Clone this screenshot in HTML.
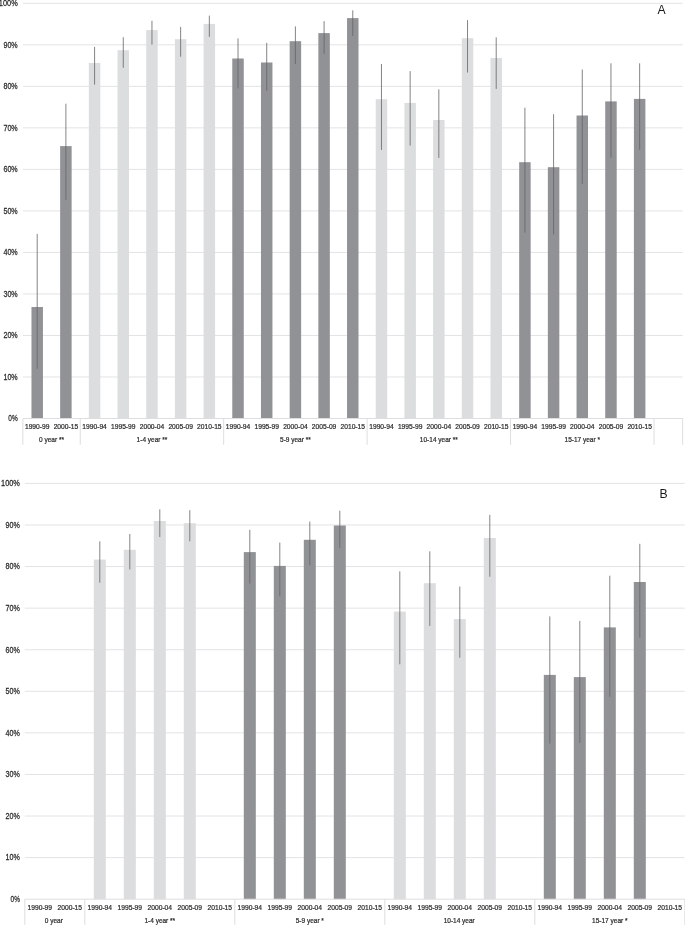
<!DOCTYPE html>
<html lang="en"><head><meta charset="utf-8"><title>Figure</title>
<style>
html,body{margin:0;padding:0;background:#fff;}
body{width:685px;height:925px;overflow:hidden;}
svg{display:block;font-family:"Liberation Sans", Arial, sans-serif;}
</style></head><body>
<svg width="685" height="925" viewBox="0 0 685 925">
<rect width="685" height="925" fill="#ffffff"/>
<g id="chartA">
<text transform="translate(17.70,421.35) scale(0.78,1)" font-size="8.3" text-anchor="end" fill="#2b2b2b" stroke="#2b2b2b" stroke-width="0.25">0%</text>
<line x1="22.86" y1="376.98" x2="682.68" y2="376.98" stroke="#e2e3e4" stroke-width="1"/>
<text transform="translate(17.70,379.83) scale(0.86,1)" font-size="8.3" text-anchor="end" fill="#2b2b2b" stroke="#2b2b2b" stroke-width="0.25">10%</text>
<line x1="22.86" y1="335.46" x2="682.68" y2="335.46" stroke="#e2e3e4" stroke-width="1"/>
<text transform="translate(17.70,338.31) scale(0.86,1)" font-size="8.3" text-anchor="end" fill="#2b2b2b" stroke="#2b2b2b" stroke-width="0.25">20%</text>
<line x1="22.86" y1="293.94" x2="682.68" y2="293.94" stroke="#e2e3e4" stroke-width="1"/>
<text transform="translate(17.70,296.79) scale(0.86,1)" font-size="8.3" text-anchor="end" fill="#2b2b2b" stroke="#2b2b2b" stroke-width="0.25">30%</text>
<line x1="22.86" y1="252.42" x2="682.68" y2="252.42" stroke="#e2e3e4" stroke-width="1"/>
<text transform="translate(17.70,255.27) scale(0.86,1)" font-size="8.3" text-anchor="end" fill="#2b2b2b" stroke="#2b2b2b" stroke-width="0.25">40%</text>
<line x1="22.86" y1="210.90" x2="682.68" y2="210.90" stroke="#e2e3e4" stroke-width="1"/>
<text transform="translate(17.70,213.75) scale(0.86,1)" font-size="8.3" text-anchor="end" fill="#2b2b2b" stroke="#2b2b2b" stroke-width="0.25">50%</text>
<line x1="22.86" y1="169.38" x2="682.68" y2="169.38" stroke="#e2e3e4" stroke-width="1"/>
<text transform="translate(17.70,172.23) scale(0.86,1)" font-size="8.3" text-anchor="end" fill="#2b2b2b" stroke="#2b2b2b" stroke-width="0.25">60%</text>
<line x1="22.86" y1="127.86" x2="682.68" y2="127.86" stroke="#e2e3e4" stroke-width="1"/>
<text transform="translate(17.70,130.71) scale(0.86,1)" font-size="8.3" text-anchor="end" fill="#2b2b2b" stroke="#2b2b2b" stroke-width="0.25">70%</text>
<line x1="22.86" y1="86.34" x2="682.68" y2="86.34" stroke="#e2e3e4" stroke-width="1"/>
<text transform="translate(17.70,89.19) scale(0.86,1)" font-size="8.3" text-anchor="end" fill="#2b2b2b" stroke="#2b2b2b" stroke-width="0.25">80%</text>
<line x1="22.86" y1="44.82" x2="682.68" y2="44.82" stroke="#e2e3e4" stroke-width="1"/>
<text transform="translate(17.70,47.67) scale(0.86,1)" font-size="8.3" text-anchor="end" fill="#2b2b2b" stroke="#2b2b2b" stroke-width="0.25">90%</text>
<line x1="22.86" y1="3.30" x2="682.68" y2="3.30" stroke="#e2e3e4" stroke-width="1"/>
<text transform="translate(17.70,6.15) scale(0.89,1)" font-size="8.3" text-anchor="end" fill="#2b2b2b" stroke="#2b2b2b" stroke-width="0.25">100%</text>
<rect x="31.47" y="307.00" width="11.48" height="111.50" fill="#919296"/>
<rect x="60.15" y="146.10" width="11.48" height="272.40" fill="#919296"/>
<rect x="88.84" y="63.00" width="11.48" height="355.50" fill="#dcddde"/>
<rect x="117.53" y="50.20" width="11.48" height="368.30" fill="#dcddde"/>
<rect x="146.22" y="30.10" width="11.48" height="388.40" fill="#dcddde"/>
<rect x="174.91" y="39.20" width="11.48" height="379.30" fill="#dcddde"/>
<rect x="203.59" y="23.90" width="11.48" height="394.60" fill="#dcddde"/>
<rect x="232.28" y="58.50" width="11.48" height="360.00" fill="#919296"/>
<rect x="260.97" y="62.50" width="11.48" height="356.00" fill="#919296"/>
<rect x="289.66" y="41.20" width="11.48" height="377.30" fill="#919296"/>
<rect x="318.35" y="33.10" width="11.48" height="385.40" fill="#919296"/>
<rect x="347.03" y="18.10" width="11.48" height="400.40" fill="#919296"/>
<rect x="375.72" y="99.20" width="11.48" height="319.30" fill="#dcddde"/>
<rect x="404.41" y="102.90" width="11.48" height="315.60" fill="#dcddde"/>
<rect x="433.10" y="120.00" width="11.48" height="298.50" fill="#dcddde"/>
<rect x="461.79" y="38.20" width="11.48" height="380.30" fill="#dcddde"/>
<rect x="490.47" y="58.00" width="11.48" height="360.50" fill="#dcddde"/>
<rect x="519.16" y="162.20" width="11.48" height="256.30" fill="#919296"/>
<rect x="547.85" y="167.20" width="11.48" height="251.30" fill="#919296"/>
<rect x="576.54" y="115.50" width="11.48" height="303.00" fill="#919296"/>
<rect x="605.23" y="101.40" width="11.48" height="317.10" fill="#919296"/>
<rect x="633.91" y="98.90" width="11.48" height="319.60" fill="#919296"/>
<line x1="37.20" y1="233.90" x2="37.20" y2="368.80" stroke="#636466" stroke-width="0.8"/>
<line x1="65.89" y1="103.70" x2="65.89" y2="199.80" stroke="#636466" stroke-width="0.8"/>
<line x1="94.58" y1="46.90" x2="94.58" y2="84.60" stroke="#636466" stroke-width="0.8"/>
<line x1="123.27" y1="37.20" x2="123.27" y2="67.80" stroke="#636466" stroke-width="0.8"/>
<line x1="151.96" y1="20.80" x2="151.96" y2="44.70" stroke="#636466" stroke-width="0.8"/>
<line x1="180.64" y1="26.90" x2="180.64" y2="56.70" stroke="#636466" stroke-width="0.8"/>
<line x1="209.33" y1="15.60" x2="209.33" y2="36.90" stroke="#636466" stroke-width="0.8"/>
<line x1="238.02" y1="38.40" x2="238.02" y2="88.40" stroke="#636466" stroke-width="0.8"/>
<line x1="266.71" y1="42.90" x2="266.71" y2="90.60" stroke="#636466" stroke-width="0.8"/>
<line x1="295.40" y1="26.40" x2="295.40" y2="64.00" stroke="#636466" stroke-width="0.8"/>
<line x1="324.08" y1="21.10" x2="324.08" y2="53.70" stroke="#636466" stroke-width="0.8"/>
<line x1="352.77" y1="10.30" x2="352.77" y2="35.90" stroke="#636466" stroke-width="0.8"/>
<line x1="381.46" y1="64.00" x2="381.46" y2="149.90" stroke="#636466" stroke-width="0.8"/>
<line x1="410.15" y1="71.10" x2="410.15" y2="145.60" stroke="#636466" stroke-width="0.8"/>
<line x1="438.84" y1="89.40" x2="438.84" y2="157.90" stroke="#636466" stroke-width="0.8"/>
<line x1="467.52" y1="20.10" x2="467.52" y2="72.60" stroke="#636466" stroke-width="0.8"/>
<line x1="496.21" y1="37.40" x2="496.21" y2="88.90" stroke="#636466" stroke-width="0.8"/>
<line x1="524.90" y1="107.70" x2="524.90" y2="232.60" stroke="#636466" stroke-width="0.8"/>
<line x1="553.59" y1="114.20" x2="553.59" y2="234.40" stroke="#636466" stroke-width="0.8"/>
<line x1="582.28" y1="69.50" x2="582.28" y2="184.00" stroke="#636466" stroke-width="0.8"/>
<line x1="610.96" y1="63.30" x2="610.96" y2="157.70" stroke="#636466" stroke-width="0.8"/>
<line x1="639.65" y1="63.30" x2="639.65" y2="149.90" stroke="#636466" stroke-width="0.8"/>
<line x1="22.86" y1="418.50" x2="682.68" y2="418.50" stroke="#dddedf" stroke-width="1"/>
<line x1="22.86" y1="418.50" x2="22.86" y2="444.80" stroke="#dddedf" stroke-width="1"/>
<line x1="80.24" y1="418.50" x2="80.24" y2="444.80" stroke="#dddedf" stroke-width="1"/>
<line x1="223.68" y1="418.50" x2="223.68" y2="444.80" stroke="#dddedf" stroke-width="1"/>
<line x1="367.12" y1="418.50" x2="367.12" y2="444.80" stroke="#dddedf" stroke-width="1"/>
<line x1="510.56" y1="418.50" x2="510.56" y2="444.80" stroke="#dddedf" stroke-width="1"/>
<line x1="654.00" y1="418.50" x2="654.00" y2="444.80" stroke="#dddedf" stroke-width="1"/>
<line x1="682.68" y1="418.50" x2="682.68" y2="444.80" stroke="#dddedf" stroke-width="1"/>
<text transform="translate(37.20,429.30) scale(0.93,1)" font-size="7.2" text-anchor="middle" fill="#2b2b2b" stroke="#2b2b2b" stroke-width="0.22">1990-99</text>
<text transform="translate(65.89,429.30) scale(0.93,1)" font-size="7.2" text-anchor="middle" fill="#2b2b2b" stroke="#2b2b2b" stroke-width="0.22">2000-15</text>
<text transform="translate(94.58,429.30) scale(0.93,1)" font-size="7.2" text-anchor="middle" fill="#2b2b2b" stroke="#2b2b2b" stroke-width="0.22">1990-94</text>
<text transform="translate(123.27,429.30) scale(0.93,1)" font-size="7.2" text-anchor="middle" fill="#2b2b2b" stroke="#2b2b2b" stroke-width="0.22">1995-99</text>
<text transform="translate(151.96,429.30) scale(0.93,1)" font-size="7.2" text-anchor="middle" fill="#2b2b2b" stroke="#2b2b2b" stroke-width="0.22">2000-04</text>
<text transform="translate(180.64,429.30) scale(0.93,1)" font-size="7.2" text-anchor="middle" fill="#2b2b2b" stroke="#2b2b2b" stroke-width="0.22">2005-09</text>
<text transform="translate(209.33,429.30) scale(0.93,1)" font-size="7.2" text-anchor="middle" fill="#2b2b2b" stroke="#2b2b2b" stroke-width="0.22">2010-15</text>
<text transform="translate(238.02,429.30) scale(0.93,1)" font-size="7.2" text-anchor="middle" fill="#2b2b2b" stroke="#2b2b2b" stroke-width="0.22">1990-94</text>
<text transform="translate(266.71,429.30) scale(0.93,1)" font-size="7.2" text-anchor="middle" fill="#2b2b2b" stroke="#2b2b2b" stroke-width="0.22">1995-99</text>
<text transform="translate(295.40,429.30) scale(0.93,1)" font-size="7.2" text-anchor="middle" fill="#2b2b2b" stroke="#2b2b2b" stroke-width="0.22">2000-04</text>
<text transform="translate(324.08,429.30) scale(0.93,1)" font-size="7.2" text-anchor="middle" fill="#2b2b2b" stroke="#2b2b2b" stroke-width="0.22">2005-09</text>
<text transform="translate(352.77,429.30) scale(0.93,1)" font-size="7.2" text-anchor="middle" fill="#2b2b2b" stroke="#2b2b2b" stroke-width="0.22">2010-15</text>
<text transform="translate(381.46,429.30) scale(0.93,1)" font-size="7.2" text-anchor="middle" fill="#2b2b2b" stroke="#2b2b2b" stroke-width="0.22">1990-94</text>
<text transform="translate(410.15,429.30) scale(0.93,1)" font-size="7.2" text-anchor="middle" fill="#2b2b2b" stroke="#2b2b2b" stroke-width="0.22">1995-99</text>
<text transform="translate(438.84,429.30) scale(0.93,1)" font-size="7.2" text-anchor="middle" fill="#2b2b2b" stroke="#2b2b2b" stroke-width="0.22">2000-04</text>
<text transform="translate(467.52,429.30) scale(0.93,1)" font-size="7.2" text-anchor="middle" fill="#2b2b2b" stroke="#2b2b2b" stroke-width="0.22">2005-09</text>
<text transform="translate(496.21,429.30) scale(0.93,1)" font-size="7.2" text-anchor="middle" fill="#2b2b2b" stroke="#2b2b2b" stroke-width="0.22">2010-15</text>
<text transform="translate(524.90,429.30) scale(0.93,1)" font-size="7.2" text-anchor="middle" fill="#2b2b2b" stroke="#2b2b2b" stroke-width="0.22">1990-94</text>
<text transform="translate(553.59,429.30) scale(0.93,1)" font-size="7.2" text-anchor="middle" fill="#2b2b2b" stroke="#2b2b2b" stroke-width="0.22">1995-99</text>
<text transform="translate(582.28,429.30) scale(0.93,1)" font-size="7.2" text-anchor="middle" fill="#2b2b2b" stroke="#2b2b2b" stroke-width="0.22">2000-04</text>
<text transform="translate(610.96,429.30) scale(0.93,1)" font-size="7.2" text-anchor="middle" fill="#2b2b2b" stroke="#2b2b2b" stroke-width="0.22">2005-09</text>
<text transform="translate(639.65,429.30) scale(0.93,1)" font-size="7.2" text-anchor="middle" fill="#2b2b2b" stroke="#2b2b2b" stroke-width="0.22">2010-15</text>
<text transform="translate(51.55,442.20) scale(0.917,1)" font-size="7.1" text-anchor="middle" fill="#2b2b2b" stroke="#2b2b2b" stroke-width="0.22">0 year **</text>
<text transform="translate(151.96,442.20) scale(0.917,1)" font-size="7.1" text-anchor="middle" fill="#2b2b2b" stroke="#2b2b2b" stroke-width="0.22">1-4 year **</text>
<text transform="translate(295.40,442.20) scale(0.917,1)" font-size="7.1" text-anchor="middle" fill="#2b2b2b" stroke="#2b2b2b" stroke-width="0.22">5-9 year **</text>
<text transform="translate(438.84,442.20) scale(0.917,1)" font-size="7.1" text-anchor="middle" fill="#2b2b2b" stroke="#2b2b2b" stroke-width="0.22">10-14 year **</text>
<text transform="translate(582.28,442.20) scale(0.917,1)" font-size="7.1" text-anchor="middle" fill="#2b2b2b" stroke="#2b2b2b" stroke-width="0.22">15-17 year *</text>
<text x="661.60" y="13.80" font-size="12.2" text-anchor="middle" fill="#1a1a1a">A</text>
</g>
<g id="chartB">
<text transform="translate(19.90,902.05) scale(0.78,1)" font-size="8.3" text-anchor="end" fill="#2b2b2b" stroke="#2b2b2b" stroke-width="0.25">0%</text>
<line x1="24.80" y1="857.62" x2="684.80" y2="857.62" stroke="#e2e3e4" stroke-width="1"/>
<text transform="translate(19.90,860.47) scale(0.86,1)" font-size="8.3" text-anchor="end" fill="#2b2b2b" stroke="#2b2b2b" stroke-width="0.25">10%</text>
<line x1="24.80" y1="816.04" x2="684.80" y2="816.04" stroke="#e2e3e4" stroke-width="1"/>
<text transform="translate(19.90,818.89) scale(0.86,1)" font-size="8.3" text-anchor="end" fill="#2b2b2b" stroke="#2b2b2b" stroke-width="0.25">20%</text>
<line x1="24.80" y1="774.46" x2="684.80" y2="774.46" stroke="#e2e3e4" stroke-width="1"/>
<text transform="translate(19.90,777.31) scale(0.86,1)" font-size="8.3" text-anchor="end" fill="#2b2b2b" stroke="#2b2b2b" stroke-width="0.25">30%</text>
<line x1="24.80" y1="732.88" x2="684.80" y2="732.88" stroke="#e2e3e4" stroke-width="1"/>
<text transform="translate(19.90,735.73) scale(0.86,1)" font-size="8.3" text-anchor="end" fill="#2b2b2b" stroke="#2b2b2b" stroke-width="0.25">40%</text>
<line x1="24.80" y1="691.30" x2="684.80" y2="691.30" stroke="#e2e3e4" stroke-width="1"/>
<text transform="translate(19.90,694.15) scale(0.86,1)" font-size="8.3" text-anchor="end" fill="#2b2b2b" stroke="#2b2b2b" stroke-width="0.25">50%</text>
<line x1="24.80" y1="649.72" x2="684.80" y2="649.72" stroke="#e2e3e4" stroke-width="1"/>
<text transform="translate(19.90,652.57) scale(0.86,1)" font-size="8.3" text-anchor="end" fill="#2b2b2b" stroke="#2b2b2b" stroke-width="0.25">60%</text>
<line x1="24.80" y1="608.14" x2="684.80" y2="608.14" stroke="#e2e3e4" stroke-width="1"/>
<text transform="translate(19.90,610.99) scale(0.86,1)" font-size="8.3" text-anchor="end" fill="#2b2b2b" stroke="#2b2b2b" stroke-width="0.25">70%</text>
<line x1="24.80" y1="566.56" x2="684.80" y2="566.56" stroke="#e2e3e4" stroke-width="1"/>
<text transform="translate(19.90,569.41) scale(0.86,1)" font-size="8.3" text-anchor="end" fill="#2b2b2b" stroke="#2b2b2b" stroke-width="0.25">80%</text>
<line x1="24.80" y1="524.98" x2="684.80" y2="524.98" stroke="#e2e3e4" stroke-width="1"/>
<text transform="translate(19.90,527.83) scale(0.86,1)" font-size="8.3" text-anchor="end" fill="#2b2b2b" stroke="#2b2b2b" stroke-width="0.25">90%</text>
<line x1="24.80" y1="483.40" x2="684.80" y2="483.40" stroke="#e2e3e4" stroke-width="1"/>
<text transform="translate(19.90,486.25) scale(0.89,1)" font-size="8.3" text-anchor="end" fill="#2b2b2b" stroke="#2b2b2b" stroke-width="0.25">100%</text>
<rect x="93.80" y="559.60" width="12.00" height="339.60" fill="#dcddde"/>
<rect x="123.80" y="549.80" width="12.00" height="349.40" fill="#dcddde"/>
<rect x="153.80" y="521.00" width="12.00" height="378.20" fill="#dcddde"/>
<rect x="183.80" y="523.20" width="12.00" height="376.00" fill="#dcddde"/>
<rect x="243.80" y="552.10" width="12.00" height="347.10" fill="#919296"/>
<rect x="273.80" y="565.90" width="12.00" height="333.30" fill="#919296"/>
<rect x="303.80" y="539.80" width="12.00" height="359.40" fill="#919296"/>
<rect x="333.80" y="525.50" width="12.00" height="373.70" fill="#919296"/>
<rect x="393.80" y="611.60" width="12.00" height="287.60" fill="#dcddde"/>
<rect x="423.80" y="583.20" width="12.00" height="316.00" fill="#dcddde"/>
<rect x="453.80" y="619.10" width="12.00" height="280.10" fill="#dcddde"/>
<rect x="483.80" y="538.00" width="12.00" height="361.20" fill="#dcddde"/>
<rect x="543.80" y="674.90" width="12.00" height="224.30" fill="#919296"/>
<rect x="573.80" y="677.10" width="12.00" height="222.10" fill="#919296"/>
<rect x="603.80" y="627.40" width="12.00" height="271.80" fill="#919296"/>
<rect x="633.80" y="582.00" width="12.00" height="317.20" fill="#919296"/>
<line x1="99.80" y1="541.30" x2="99.80" y2="582.70" stroke="#636466" stroke-width="0.8"/>
<line x1="129.80" y1="534.00" x2="129.80" y2="569.40" stroke="#636466" stroke-width="0.8"/>
<line x1="159.80" y1="509.40" x2="159.80" y2="537.00" stroke="#636466" stroke-width="0.8"/>
<line x1="189.80" y1="510.20" x2="189.80" y2="541.30" stroke="#636466" stroke-width="0.8"/>
<line x1="249.80" y1="529.80" x2="249.80" y2="583.50" stroke="#636466" stroke-width="0.8"/>
<line x1="279.80" y1="542.60" x2="279.80" y2="596.30" stroke="#636466" stroke-width="0.8"/>
<line x1="309.80" y1="521.50" x2="309.80" y2="565.40" stroke="#636466" stroke-width="0.8"/>
<line x1="339.80" y1="510.70" x2="339.80" y2="547.80" stroke="#636466" stroke-width="0.8"/>
<line x1="399.80" y1="571.40" x2="399.80" y2="664.30" stroke="#636466" stroke-width="0.8"/>
<line x1="429.80" y1="551.30" x2="429.80" y2="625.90" stroke="#636466" stroke-width="0.8"/>
<line x1="459.80" y1="586.50" x2="459.80" y2="657.80" stroke="#636466" stroke-width="0.8"/>
<line x1="489.80" y1="514.90" x2="489.80" y2="576.70" stroke="#636466" stroke-width="0.8"/>
<line x1="549.80" y1="616.40" x2="549.80" y2="743.60" stroke="#636466" stroke-width="0.8"/>
<line x1="579.80" y1="620.90" x2="579.80" y2="742.90" stroke="#636466" stroke-width="0.8"/>
<line x1="609.80" y1="575.70" x2="609.80" y2="696.70" stroke="#636466" stroke-width="0.8"/>
<line x1="639.80" y1="543.80" x2="639.80" y2="637.70" stroke="#636466" stroke-width="0.8"/>
<line x1="24.80" y1="899.20" x2="684.80" y2="899.20" stroke="#dddedf" stroke-width="1"/>
<line x1="24.80" y1="899.20" x2="24.80" y2="926.00" stroke="#dddedf" stroke-width="1"/>
<line x1="84.80" y1="899.20" x2="84.80" y2="926.00" stroke="#dddedf" stroke-width="1"/>
<line x1="234.80" y1="899.20" x2="234.80" y2="926.00" stroke="#dddedf" stroke-width="1"/>
<line x1="384.80" y1="899.20" x2="384.80" y2="926.00" stroke="#dddedf" stroke-width="1"/>
<line x1="534.80" y1="899.20" x2="534.80" y2="926.00" stroke="#dddedf" stroke-width="1"/>
<line x1="684.80" y1="899.20" x2="684.80" y2="926.00" stroke="#dddedf" stroke-width="1"/>
<text transform="translate(39.80,909.90) scale(0.93,1)" font-size="7.2" text-anchor="middle" fill="#2b2b2b" stroke="#2b2b2b" stroke-width="0.22">1990-99</text>
<text transform="translate(69.80,909.90) scale(0.93,1)" font-size="7.2" text-anchor="middle" fill="#2b2b2b" stroke="#2b2b2b" stroke-width="0.22">2000-15</text>
<text transform="translate(99.80,909.90) scale(0.93,1)" font-size="7.2" text-anchor="middle" fill="#2b2b2b" stroke="#2b2b2b" stroke-width="0.22">1990-94</text>
<text transform="translate(129.80,909.90) scale(0.93,1)" font-size="7.2" text-anchor="middle" fill="#2b2b2b" stroke="#2b2b2b" stroke-width="0.22">1995-99</text>
<text transform="translate(159.80,909.90) scale(0.93,1)" font-size="7.2" text-anchor="middle" fill="#2b2b2b" stroke="#2b2b2b" stroke-width="0.22">2000-04</text>
<text transform="translate(189.80,909.90) scale(0.93,1)" font-size="7.2" text-anchor="middle" fill="#2b2b2b" stroke="#2b2b2b" stroke-width="0.22">2005-09</text>
<text transform="translate(219.80,909.90) scale(0.93,1)" font-size="7.2" text-anchor="middle" fill="#2b2b2b" stroke="#2b2b2b" stroke-width="0.22">2010-15</text>
<text transform="translate(249.80,909.90) scale(0.93,1)" font-size="7.2" text-anchor="middle" fill="#2b2b2b" stroke="#2b2b2b" stroke-width="0.22">1990-94</text>
<text transform="translate(279.80,909.90) scale(0.93,1)" font-size="7.2" text-anchor="middle" fill="#2b2b2b" stroke="#2b2b2b" stroke-width="0.22">1995-99</text>
<text transform="translate(309.80,909.90) scale(0.93,1)" font-size="7.2" text-anchor="middle" fill="#2b2b2b" stroke="#2b2b2b" stroke-width="0.22">2000-04</text>
<text transform="translate(339.80,909.90) scale(0.93,1)" font-size="7.2" text-anchor="middle" fill="#2b2b2b" stroke="#2b2b2b" stroke-width="0.22">2005-09</text>
<text transform="translate(369.80,909.90) scale(0.93,1)" font-size="7.2" text-anchor="middle" fill="#2b2b2b" stroke="#2b2b2b" stroke-width="0.22">2010-15</text>
<text transform="translate(399.80,909.90) scale(0.93,1)" font-size="7.2" text-anchor="middle" fill="#2b2b2b" stroke="#2b2b2b" stroke-width="0.22">1990-94</text>
<text transform="translate(429.80,909.90) scale(0.93,1)" font-size="7.2" text-anchor="middle" fill="#2b2b2b" stroke="#2b2b2b" stroke-width="0.22">1995-99</text>
<text transform="translate(459.80,909.90) scale(0.93,1)" font-size="7.2" text-anchor="middle" fill="#2b2b2b" stroke="#2b2b2b" stroke-width="0.22">2000-04</text>
<text transform="translate(489.80,909.90) scale(0.93,1)" font-size="7.2" text-anchor="middle" fill="#2b2b2b" stroke="#2b2b2b" stroke-width="0.22">2005-09</text>
<text transform="translate(519.80,909.90) scale(0.93,1)" font-size="7.2" text-anchor="middle" fill="#2b2b2b" stroke="#2b2b2b" stroke-width="0.22">2010-15</text>
<text transform="translate(549.80,909.90) scale(0.93,1)" font-size="7.2" text-anchor="middle" fill="#2b2b2b" stroke="#2b2b2b" stroke-width="0.22">1990-94</text>
<text transform="translate(579.80,909.90) scale(0.93,1)" font-size="7.2" text-anchor="middle" fill="#2b2b2b" stroke="#2b2b2b" stroke-width="0.22">1995-99</text>
<text transform="translate(609.80,909.90) scale(0.93,1)" font-size="7.2" text-anchor="middle" fill="#2b2b2b" stroke="#2b2b2b" stroke-width="0.22">2000-04</text>
<text transform="translate(639.80,909.90) scale(0.93,1)" font-size="7.2" text-anchor="middle" fill="#2b2b2b" stroke="#2b2b2b" stroke-width="0.22">2005-09</text>
<text transform="translate(669.80,909.90) scale(0.93,1)" font-size="7.2" text-anchor="middle" fill="#2b2b2b" stroke="#2b2b2b" stroke-width="0.22">2010-15</text>
<text transform="translate(53.80,922.60) scale(0.917,1)" font-size="7.1" text-anchor="middle" fill="#2b2b2b" stroke="#2b2b2b" stroke-width="0.22">0 year</text>
<text transform="translate(159.80,922.60) scale(0.917,1)" font-size="7.1" text-anchor="middle" fill="#2b2b2b" stroke="#2b2b2b" stroke-width="0.22">1-4 year **</text>
<text transform="translate(309.80,922.60) scale(0.917,1)" font-size="7.1" text-anchor="middle" fill="#2b2b2b" stroke="#2b2b2b" stroke-width="0.22">5-9 year *</text>
<text transform="translate(459.20,922.60) scale(0.917,1)" font-size="7.1" text-anchor="middle" fill="#2b2b2b" stroke="#2b2b2b" stroke-width="0.22">10-14 year</text>
<text transform="translate(609.80,922.60) scale(0.917,1)" font-size="7.1" text-anchor="middle" fill="#2b2b2b" stroke="#2b2b2b" stroke-width="0.22">15-17 year *</text>
<text x="663.60" y="497.90" font-size="12.2" text-anchor="middle" fill="#1a1a1a">B</text>
</g>
</svg>
</body></html>
